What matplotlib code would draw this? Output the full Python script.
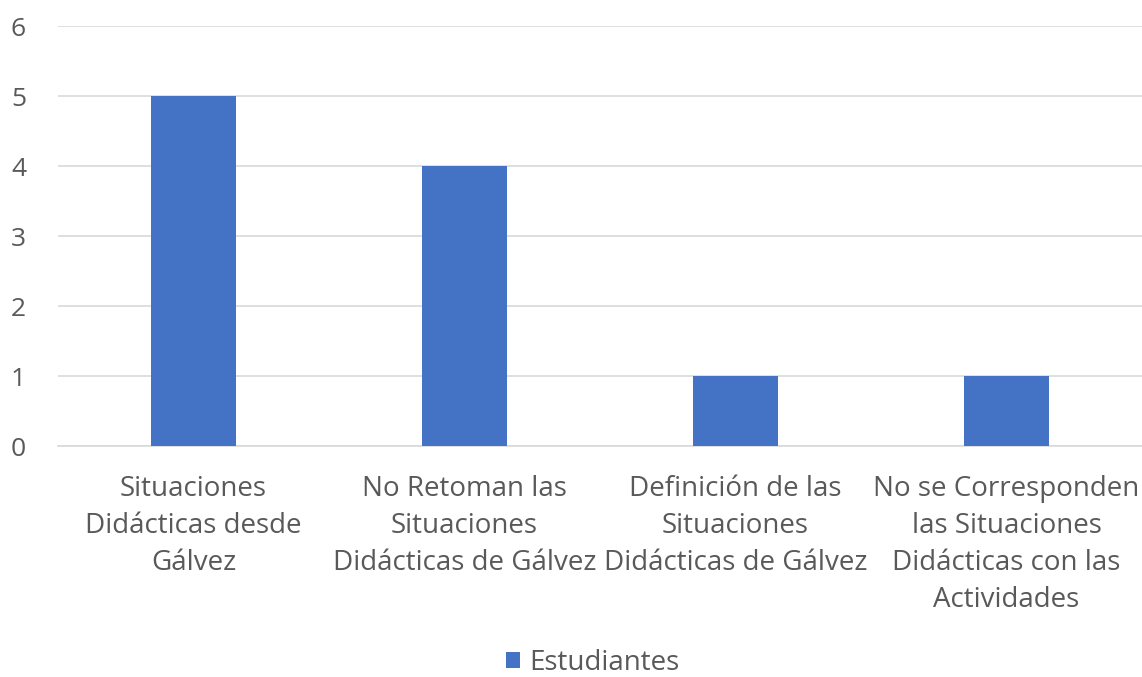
import matplotlib
matplotlib.use("Agg")
import matplotlib.pyplot as plt
import numpy as np

# datos del grafico
categorias = [
    "Situaciones\nDidácticas desde\nGálvez",
    "No Retoman las\nSituaciones\nDidácticas de Gálvez",
    "Definición de las\nSituaciones\nDidácticas de Gálvez",
    "No se Corresponden\nlas Situaciones\nDidácticas con las\nActividades",
]
estudiantes = [5, 4, 1, 1]
y_ticks = [0, 1, 2, 3, 4, 5, 6]

plt.rcParams['font.family'] = ['Open Sans', 'DejaVu Sans']
gris = "#595959"

fig = plt.figure(figsize=(11.42, 6.77), dpi=100)
ax = fig.add_axes([58 / 1142, 1 - 446 / 677, 1 - 58 / 1142, (446 - 26) / 677])

x = np.arange(len(categorias))
ax.bar(x, estudiantes, width=0.31, color="#4472C4", label="Estudiantes", zorder=3)

ax.set_xlim(-0.5, len(categorias) - 0.5)
ax.set_ylim(0, 6)
ax.set_yticks(y_ticks)
ax.yaxis.grid(True, color="#D9D9D9", linewidth=1.2, zorder=0)
for s in ["top", "right", "left"]:
    ax.spines[s].set_visible(False)
ax.spines["bottom"].set_color("#D9D9D9")
ax.spines["bottom"].set_linewidth(1.2)

ax.set_xticks(x)
ax.set_xticklabels(categorias, fontsize=20, color=gris, linespacing=1.42)
ax.tick_params(axis="x", length=0, pad=21)
ax.tick_params(axis="y", length=0, pad=23, labelsize=19, labelcolor=gris)

fig.legend(loc="center", bbox_to_anchor=(0.519, 0.021), frameon=False,
           fontsize=20, labelcolor=gris, handlelength=0.5, handleheight=0.5,
           handletextpad=0.35)

fig.savefig("out.png", dpi=100)
